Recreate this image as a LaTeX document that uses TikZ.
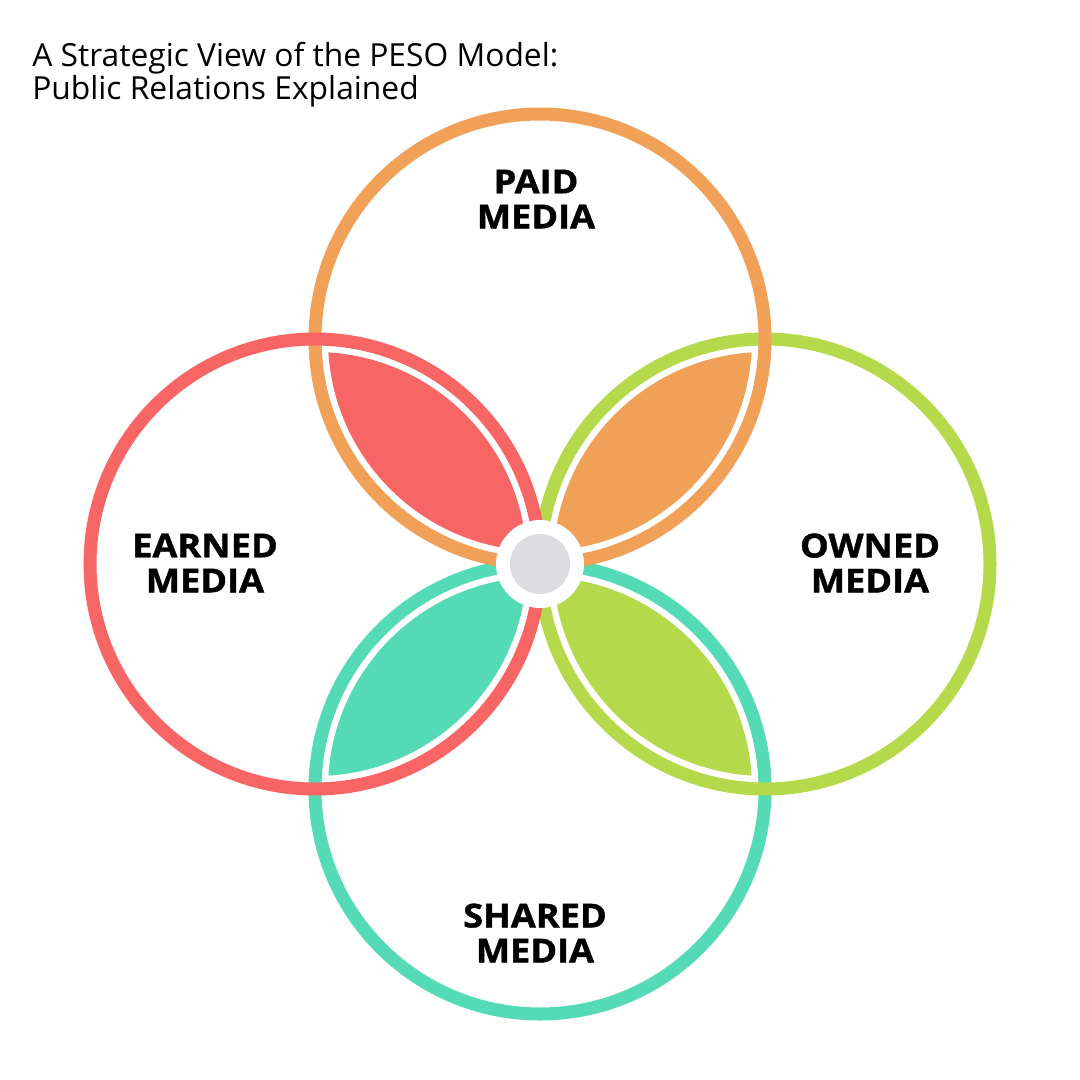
\documentclass[tikz,border=0pt]{standalone}
\usepackage{fontspec}
\setmainfont{Open Sans}
\newfontfamily\heavyfont{Open Sans}[BoldFeatures={FakeBold=1.2, FakeStretch=1.1}]
\usetikzlibrary{calc}
\definecolor{paidc}{HTML}{F0A057}
\definecolor{earnedc}{HTML}{F76565}
\definecolor{ownedc}{HTML}{B4DA4C}
\definecolor{sharedc}{HTML}{54DAB4}
\definecolor{hubc}{HTML}{DCDBE0}
\tikzset{
  ring/.style={line width=9.25pt},
  lbl/.style={font=\heavyfont\bfseries\fontsize{23.4}{24.9}\selectfont, align=center, inner sep=0pt},
}

\begin{document}
\begin{tikzpicture}[x=0.025cm,y=-0.025cm]
            \useasboundingbox (0,0) rectangle (1080,1080);
            \coordinate (P) at (540,339);
            \coordinate (E) at (315,564);
            \coordinate (O) at (765,564);
            \coordinate (S) at (540,789);
            \coordinate (C) at (540,564);
            % petals
            \foreach \a/\b/\col in {P/E/earnedc, P/O/paidc, O/S/ownedc, S/E/sharedc}{
              \begin{scope}
                \clip (\a) circle (212);
                \fill[\col] (\b) circle (212);
              \end{scope}
            }
            % rings
            \foreach \c/\col in {S/sharedc, O/ownedc, P/paidc, E/earnedc}
              \draw[ring, \col] (\c) circle (225);
            % hub
            \fill[white] (C) circle (44);
            \node[circle, fill=hubc, inner sep=0pt, minimum size=60*0.025cm] (hub) at (C) {};
            % labels
            \node[lbl] (paid) at (536,199) {PAID\\MEDIA};
            \node[lbl] (earned) at (205,563) {EARNED\\MEDIA};
            \node[lbl] (owned) at (870,563) {OWNED\\MEDIA};
            \node[lbl] (shared) at (535,933) {SHARED\\MEDIA};
            \node[anchor=north west, align=left, inner sep=0pt,
                  font=\fontsize{22.6}{21.3}\selectfont] (title) at (32,42)
                  {A Strategic View of the PESO Model:\\Public Relations Explained};
\end{tikzpicture}
\end{document}
